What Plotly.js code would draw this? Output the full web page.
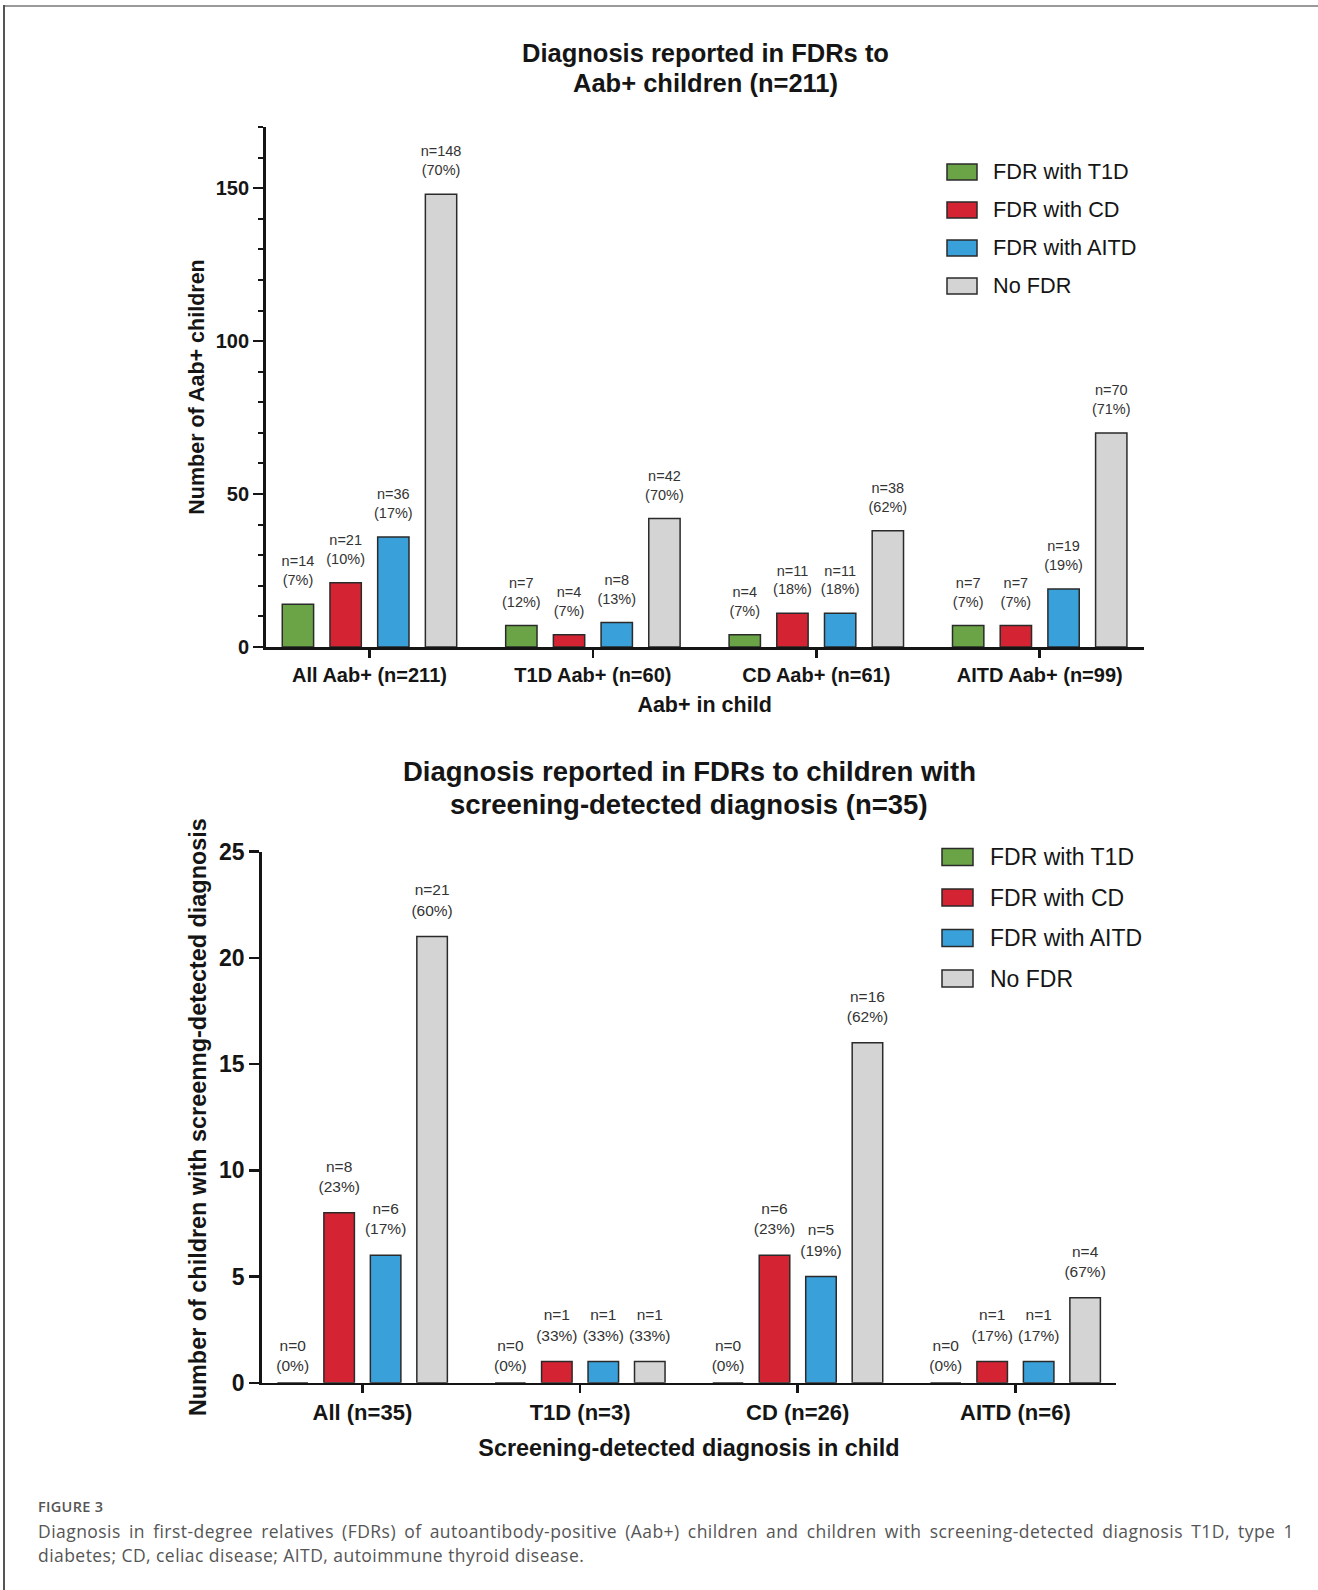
<!DOCTYPE html>
<html>
<head>
<meta charset="utf-8">
<script src="https://cdn.plot.ly/plotly-3.0.1.min.js"></script>
<style>
html,body{margin:0;padding:0;background:#fff;}
#wrap{position:relative;width:1318px;height:1590px;overflow:hidden;background:#fff;}
#chart{position:absolute;left:0;top:0;width:1318px;height:1590px;}
#frameTop{position:absolute;left:3px;top:5px;width:1315px;height:2px;background:#9a9a9a;}
#frameLeft{position:absolute;left:3px;top:5px;width:2px;height:1585px;background:#555;}
#caption{position:absolute;left:38px;top:1497px;width:1256px;font-family:'Open Sans',Lato,sans-serif;color:#555;}
#caption .lab{font-size:14.5px;line-height:20px;letter-spacing:0.3px;color:#555;font-weight:600;margin-bottom:2px;}
#caption .l1{font-size:17.5px;letter-spacing:0.45px;line-height:24px;text-align:justify;text-align-last:justify;white-space:nowrap;}
#caption .l2{font-size:17.5px;letter-spacing:0.45px;line-height:24px;}
</style>
</head>
<body>
<div id="wrap">
  <div id="chart"></div>
  <div id="frameTop"></div>
  <div id="frameLeft"></div>
  <div id="caption">
    <div class="lab">FIGURE 3</div>
    <div class="l1">Diagnosis in first-degree relatives (FDRs) of autoantibody-positive (Aab+) children and children with screening-detected diagnosis T1D, type 1</div>
    <div class="l2">diabetes; CD, celiac disease; AITD, autoimmune thyroid disease.</div>
  </div>
</div>
<script>
// ---------- DATA ----------
const seriesNames = ['FDR with T1D', 'FDR with CD', 'FDR with AITD', 'No FDR'];

// Top chart: Aab+ children (n=211)
const topCategories = ['All Aab+ (n=211)', 'T1D Aab+ (n=60)', 'CD Aab+ (n=61)', 'AITD Aab+ (n=99)'];
const topT1D      = [14, 7, 4, 7];
const topT1DPct   = [7, 12, 7, 7];
const topCD       = [21, 4, 11, 7];
const topCDPct    = [10, 7, 18, 7];
const topAITD     = [36, 8, 11, 19];
const topAITDPct  = [17, 13, 18, 19];
const topNoFDR    = [148, 42, 38, 70];
const topNoFDRPct = [70, 70, 62, 71];

// Bottom chart: children with screening-detected diagnosis (n=35)
const botCategories = ['All (n=35)', 'T1D (n=3)', 'CD (n=26)', 'AITD (n=6)'];
const botT1D      = [0, 0, 0, 0];
const botT1DPct   = [0, 0, 0, 0];
const botCD       = [8, 1, 6, 1];
const botCDPct    = [23, 33, 23, 17];
const botAITD     = [6, 1, 5, 1];
const botAITDPct  = [17, 33, 19, 17];
const botNoFDR    = [21, 1, 16, 4];
const botNoFDRPct = [60, 33, 62, 67];

const topTitleLines = ['Diagnosis reported in FDRs to', 'Aab+ children (n=211)'];
const botTitleLines = ['Diagnosis reported in FDRs to children with', 'screening-detected diagnosis (n=35)'];
const topXTitle = 'Aab+ in child';
const topYTitle = 'Number of Aab+ children';
const botXTitle = 'Screening-detected diagnosis in child';
const botYTitle = 'Number of children with screenng-detected diagnosis';

// ---------- STYLE ----------
const W = 1318, H = 1590;
const FONT = 'Liberation Sans';
const colors = ['#6aa446', '#d42433', '#3aa0da', '#d4d4d4'];
const edge = '#2a2a2a';
const ink = '#151515';
const px = v => v / W;
const py = v => 1 - v / H;

function label(vals, pcts) {
  return vals.map((v, i) => 'n=' + v + '<br>(' + pcts[i] + '%)');
}

function makeTraces(cats, series, xa, ya, fsize) {
  return series.map((s, k) => ({
    type: 'bar',
    name: seriesNames[k],
    x: cats,
    y: s[0],
    text: label(s[0], s[1]),
    textposition: 'outside',
    textangle: 0,
    constraintext: 'none',
    cliponaxis: false,
    textfont: {family: FONT, size: fsize, color: '#333'},
    marker: {color: colors[k], line: {color: edge, width: 1.5}},
    xaxis: xa, yaxis: ya,
    showlegend: false,
    hoverinfo: 'x+y+name'
  }));
}

const data = [].concat(
  makeTraces(topCategories, [[topT1D, topT1DPct], [topCD, topCDPct], [topAITD, topAITDPct], [topNoFDR, topNoFDRPct]], 'x', 'y', 14.5),
  makeTraces(botCategories, [[botT1D, botT1DPct], [botCD, botCDPct], [botAITD, botAITDPct], [botNoFDR, botNoFDRPct]], 'x2', 'y2', 15.5)
);

function xAxis(domain, anchor, range, tsize, title, tfs, standoff) {
  return {
    domain: domain, anchor: anchor, type: 'category', range: range,
    showline: true, linewidth: 2.5, linecolor: ink,
    ticks: 'outside', ticklen: 8, tickwidth: 2.5, tickcolor: ink,
    tickfont: {family: FONT, size: tsize, weight: 'bold', color: ink},
    showgrid: false, zeroline: false, fixedrange: true,
    title: {text: title, font: {family: FONT, size: tfs, weight: 'bold', color: ink}, standoff: standoff}
  };
}
function yAxis(domain, anchor, range, dtick, minorDtick, tsize, title, tfs, standoff) {
  const a = {
    domain: domain, anchor: anchor, range: range, tick0: 0, dtick: dtick,
    showline: true, linewidth: 2.5, linecolor: ink,
    ticks: 'outside', ticklen: 10, tickwidth: 2.5, tickcolor: ink,
    tickfont: {family: FONT, size: tsize, weight: 'bold', color: ink},
    showgrid: false, zeroline: false, fixedrange: true,
    title: {text: title, font: {family: FONT, size: tfs, weight: 'bold', color: ink}, standoff: standoff}
  };
  if (minorDtick) {
    a.minor = {ticks: 'outside', ticklen: 5, tickwidth: 2, tickcolor: ink, dtick: minorDtick, tick0: 0, showgrid: false};
  }
  return a;
}

const annotations = [];
function titleLines(lines, cx, ys, fs) {
  lines.forEach((t, i) => annotations.push({
    text: t, xref: 'paper', yref: 'paper', x: px(cx), y: py(ys[i]), xanchor: 'center', yanchor: 'middle',
    showarrow: false, font: {family: FONT, size: fs, weight: 'bold', color: ink}
  }));
}
titleLines(topTitleLines, 705, [53, 83], 25.5);
titleLines(botTitleLines, 689, [771, 804], 27.5);

const shapes = [];
function legend(x0, cy0, step, sw, sh, tx, fs) {
  seriesNames.forEach((n, k) => {
    const cy = cy0 + k * step;
    shapes.push({type: 'rect', xref: 'paper', yref: 'paper', x0: px(x0), x1: px(x0 + sw),
      y0: py(cy + sh / 2), y1: py(cy - sh / 2), fillcolor: colors[k], line: {color: edge, width: 1.5}});
    annotations.push({text: n, xref: 'paper', yref: 'paper', x: px(tx), y: py(cy), xanchor: 'left', yanchor: 'middle',
      showarrow: false, font: {family: FONT, size: fs, color: ink}});
  });
}
legend(947, 172, 38, 30, 16, 991, 21.7);
legend(942, 857, 40.5, 31, 17, 988, 23);

const layout = {
  width: W, height: H,
  margin: {l: 0, r: 0, t: 0, b: 0},
  paper_bgcolor: 'rgba(0,0,0,0)', plot_bgcolor: 'rgba(0,0,0,0)',
  barmode: 'group', bargap: 0.146, bargroupgap: 0.343,
  font: {family: FONT, color: ink},
  xaxis: xAxis([px(265.6), px(1143.6)], 'y', [-0.465, 3.465], 20, topXTitle, 21.5, 13),
  yaxis: yAxis([py(647), py(127)], 'x', [0, 170], 50, 10, 20, topYTitle, 21.5, 5),
  xaxis2: xAxis([px(261.6), px(1116.2)], 'y2', [-0.463, 3.463], 22, botXTitle, 23.4, 16),
  yaxis2: yAxis([py(1382.8), py(851.6)], 'x2', [0, 25], 5, null, 23, botYTitle, 23.4, 6),
  annotations: annotations,
  shapes: shapes
};

Plotly.newPlot('chart', data, layout, {displayModeBar: false, staticPlot: true}).then(gd => {
  // lift the value labels a little further above their bars, as in the original figure
  gd.querySelectorAll('g.trace.bars').forEach(tr => {
    const cd = tr.__data__;
    if (!cd || !cd[0]) return;
    const trace = cd[0].trace;
    const lift = trace.yaxis === 'y2' ? 15 : 13;
    tr.querySelectorAll('g.point').forEach((pt, i) => {
      const t = pt.querySelector('text.bartext');
      if (!t) return;
      const d = trace.y[i] === 0 ? 6 : lift;
      t.setAttribute('transform', 'translate(0,' + (-d) + ') ' + (t.getAttribute('transform') || ''));
    });
  });
});
</script>
</body>
</html>
